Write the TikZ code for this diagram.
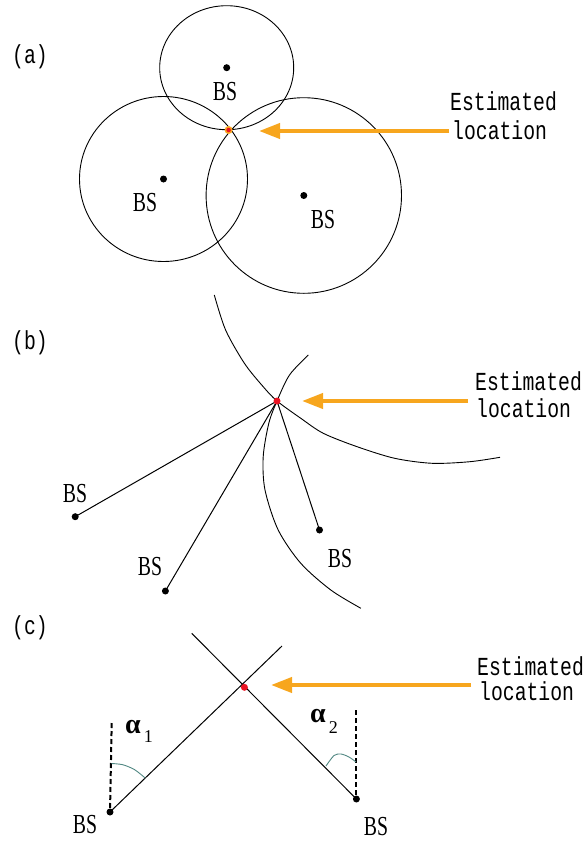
\documentclass[tikz,border=0pt]{standalone}
\usepackage{fontspec}
\setmainfont{Liberation Serif}
\newfontfamily\monof{Liberation Mono}[FakeStretch=0.76]
\newfontfamily\bsf{Liberation Serif}[FakeStretch=0.72]
\usetikzlibrary{arrows.meta}
\definecolor{arrorange}{RGB}{247,166,30}
\definecolor{dotred}{RGB}{235,20,35}
\definecolor{angcol}{RGB}{80,135,130}
\begin{document}
\begin{tikzpicture}[x=1pt,y=-1pt,
  bsdot/.style={circle,fill=black,inner sep=0pt,minimum size=7pt},
  bslabel/.style={font=\bsf\fontsize{27.5}{27.5}\selectfont,inner sep=0pt},
  plabel/.style={font=\monof\fontsize{26}{26}\selectfont,inner sep=0pt},
  esttext/.style={font=\monof\fontsize{26}{26}\selectfont,inner sep=0pt,anchor=base west},
  orarrow/.style={draw=arrorange,line width=4pt,-{Triangle[length=21pt,width=15pt]}},
  curveline/.style={draw=black,line width=0.9pt},
  rayline/.style={draw=black,line width=1pt},
  dashv/.style={draw=black,line width=2pt,dash pattern=on 5pt off 3pt},
  angarc/.style={draw=angcol,line width=0.9pt},
  reddot/.style={circle,fill=dotred,inner sep=0pt,minimum size=7pt}]
\useasboundingbox (0,0) rectangle (586,841);

% ---------------- (a) ----------------
\node[plabel] (la) at (30,57) {(a)};
\node[bsdot] (a1) at (226.7,67.7) {};
\node[bsdot] (a2) at (163.5,179) {};
\node[bsdot] (a3) at (303.8,195.5) {};
\draw[curveline] (a1.center) ellipse [x radius=67pt, y radius=62pt];
\draw[curveline] (a2.center) ellipse [x radius=84pt, y radius=82.5pt];
\draw[curveline] (a3.center) ellipse [x radius=97.7pt, y radius=97.8pt];
\node[bslabel] (ba1) at (225,92) {BS};
\node[bslabel] (ba2) at (145,203) {BS};
\node[bslabel] (ba3) at (323,220) {BS};
\node[circle,fill=arrorange,inner sep=0pt,minimum size=8pt] (ia) at (228.6,130) {};
\node[circle,fill=dotred,inner sep=0pt,minimum size=4.5pt] (iac) at (ia) {};
\node[esttext] (ea1) at (450,110.7) {Estimated};
\node[esttext] (ea2) at (452,139.5) {location};
\coordinate (ta) at (449,131);
\coordinate (ha) at (259,131);
\draw[orarrow] (ta) -- (ha);

% ---------------- (b) ----------------
\node[plabel] (lb) at (30,343) {(b)};
\coordinate (ib) at (277,401);
\node[bsdot] (b1) at (75.2,516.7) {};
\node[bsdot] (b2) at (165.4,591) {};
\node[bsdot] (b3) at (319.5,530) {};
\draw[rayline] (b1.center) -- (ib);
\draw[rayline] (b2.center) -- (ib);
\draw[rayline] (b3.center) -- (ib);
\draw[curveline] plot[smooth] coordinates {(214.3,295) (225.6,330) (244.4,363.3) (263.2,386.7) (277,401) (300.8,418.3) (323.3,433.3) (357.1,446.7) (394.7,458.3) (432.3,463.3) (469.9,461.7) (500,457.3)};
\draw[curveline] plot[smooth] coordinates {(308.3,355) (289.5,375) (277,401) (268.8,423.3) (263.2,456.7) (265,490) (278.2,530) (300.8,563.3) (330.8,590) (360.9,608.3)};
\node[reddot] (ibd) at (ib) {};
\node[bslabel] (bb1) at (75,494) {BS};
\node[bslabel] (bb2) at (150,567) {BS};
\node[bslabel] (bb3) at (340,559) {BS};
\node[esttext] (eb1) at (475,390) {Estimated};
\node[esttext] (eb2) at (476,417) {location};
\coordinate (tb) at (468,401);
\coordinate (hb) at (302,401);
\draw[orarrow] (tb) -- (hb);

% ---------------- (c) ----------------
\node[plabel] (lc) at (30,628) {(c)};
\node[bsdot] (c1) at (110,812) {};
\node[bsdot] (c2) at (356.4,799) {};
\coordinate (c1end) at (282,646);
\coordinate (c2end) at (191.7,633.3);
\draw[rayline] (c1.center) -- (c1end);
\draw[rayline] (c2end) -- (c2.center);
\coordinate (d1) at (111.7,723);
\coordinate (d2) at (356.4,710);
\draw[dashv] (d1) -- (c1.center);
\draw[dashv] (d2) -- (c2.center);
\draw[angarc] plot[smooth] coordinates {(111.5,763.5) (122.7,764.7) (134.5,769.6) (145.2,778)};
\draw[angarc] plot[smooth] coordinates {(356,762) (349,757) (341,754) (334,755.5) (326,766)};
\node[reddot] (icd) at (244.4,687.3) {};
\node[inner sep=0pt,anchor=base west] (al1) at (125,733) {\fontsize{28}{28}\selectfont\bfseries α\raisebox{-9pt}{\fontsize{18}{18}\mdseries\selectfont\,1}};
\node[inner sep=0pt,anchor=base west] (al2) at (310,722) {\fontsize{28}{28}\selectfont\bfseries α\raisebox{-11pt}{\fontsize{18}{18}\mdseries\selectfont\,2}};
\node[bslabel] (bc1) at (85,825) {BS};
\node[bslabel] (bc2) at (376,826.5) {BS};
\node[esttext] (ec1) at (477,675) {Estimated};
\node[esttext] (ec2) at (479,700) {location};
\coordinate (tc) at (471,685);
\coordinate (hc) at (271,685);
\draw[orarrow] (tc) -- (hc);
\end{tikzpicture}
\end{document}
